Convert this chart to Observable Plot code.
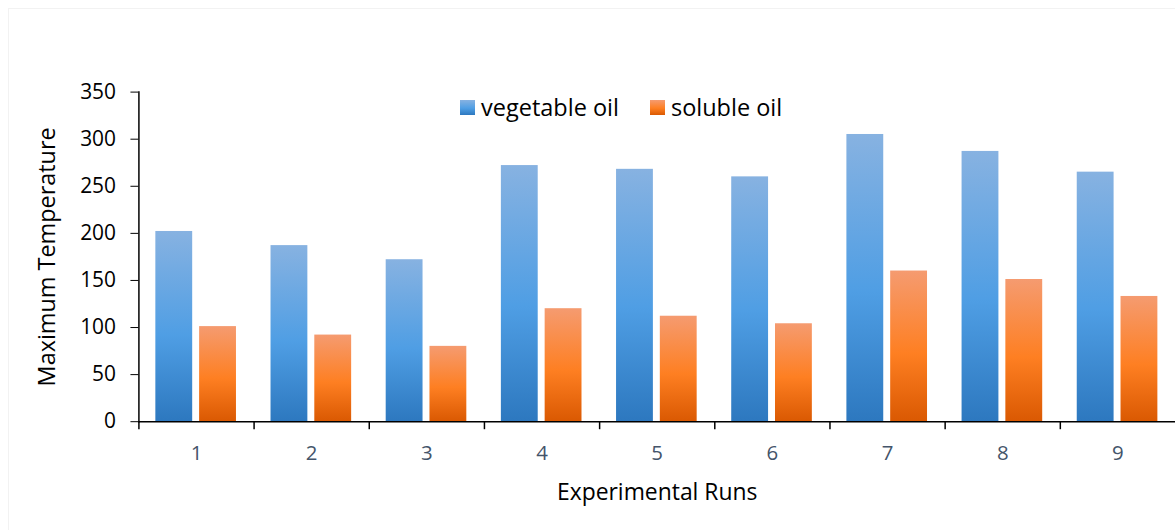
<!DOCTYPE html>
<html>
<head>
<meta charset="utf-8">
<script src="https://cdn.jsdelivr.net/npm/d3@7"></script>
<script src="https://cdn.jsdelivr.net/npm/@observablehq/plot@0.6"></script>
<style>
  html, body { margin: 0; padding: 0; background: #fff; overflow: hidden; }
  #wrap { position: relative; width: 1175px; height: 530px; overflow: hidden; font-family: "Open Sans", Lato, sans-serif; }
  #border { position: absolute; left: 8px; top: 8px; width: 1200px; height: 600px; border: 1px solid #f2f2f2; box-sizing: border-box; pointer-events: none; }
  #legend { position: absolute; left: 460px; top: 91px; display: flex; align-items: center; font-size: 23.5px; color: #000; }
  #legend .item { display: flex; align-items: center; }
  #legend .sw { width: 15px; height: 15px; margin-right: 6px; }
  #legend .sep { width: 31px; }
  #chart { position: absolute; left: 0; top: 0; }
</style>
</head>
<body>
<div id="wrap">
  <div id="border"></div>
  <div id="chart"></div>
  <div id="legend"></div>
</div>
<script>
// ---- data ----
const runs = [1, 2, 3, 4, 5, 6, 7, 8, 9];
const seriesNames = ["vegetable oil", "soluble oil"];
const vegetableOil = [202, 187, 172, 272, 268, 260, 305, 287, 265];
const solubleOil = [101, 92, 80, 120, 112, 104, 160, 151, 133];
const yTicks = [0, 50, 100, 150, 200, 250, 300, 350];
const xLabel = "Experimental Runs";
const yLabel = "Maximum Temperature";

// gradient stops per series [top, middle, bottom]
const gradients = {
  "vegetable oil": ["#87b2e1", "#4f9ee4", "#2d78bf"],
  "soluble oil": ["#f59b70", "#fe7f22", "#da5902"]
};
const gradId = {"vegetable oil": "grad-veg", "soluble oil": "grad-sol"};

const W = 1180, H = 530;
const mL = 139, mR = 0, mT = 92, mB = 107;
const step = (W - mL - mR) / runs.length;

const defs = () => {
  const svg = d3.create("svg:defs");
  for (const name of seriesNames) {
    const g = svg.append("linearGradient").attr("id", gradId[name])
      .attr("x1", 0).attr("y1", 0).attr("x2", 0).attr("y2", 1);
    const [a, b, c] = gradients[name];
    g.append("stop").attr("offset", "0%").attr("stop-color", a);
    g.append("stop").attr("offset", "55%").attr("stop-color", b);
    g.append("stop").attr("offset", "100%").attr("stop-color", c);
  }
  return svg.node();
};

const chart = Plot.plot({
  width: W,
  height: H,
  marginLeft: mL,
  marginRight: mR,
  marginTop: mT,
  marginBottom: mB,
  style: {fontFamily: "'Open Sans', Lato, sans-serif", background: "transparent", overflow: "visible"},
  x: {domain: runs, padding: 0, round: false},
  y: {domain: [0, 350]},
  marks: [
    defs,
    Plot.barY(runs, {x: d => d, y: (d, i) => vegetableOil[i], fill: `url(#${gradId["vegetable oil"]})`, insetLeft: 17, insetRight: step - 54}),
    Plot.barY(runs, {x: d => d, y: (d, i) => solubleOil[i], fill: `url(#${gradId["soluble oil"]})`, insetLeft: step - 54.7, insetRight: 17.7}),
    Plot.axisY({ticks: yTicks, tickSize: 8, tickPadding: 15, fontSize: 21, fill: "#000", stroke: "#000",
      label: yLabel, labelAnchor: "center", labelArrow: "none", labelOffset: 101}),
    Plot.axisX({ticks: runs, tickSize: 0, tickPadding: 24, fontSize: 20.5, fill: "#44546a",
      label: xLabel, labelAnchor: "center", labelArrow: "none", labelOffset: 79}),
    Plot.ruleX(runs, {x: d => d, y1: 0, y2: -8.5, dx: -step / 2, stroke: "#000", strokeWidth: 1.5}),
    Plot.ruleY([0], {stroke: "#000", strokeWidth: 1.5}),
    Plot.frame({anchor: "left", stroke: "#000", strokeWidth: 1.5})
  ]
});
// style axis labels
d3.select(chart).selectAll("g[aria-label='y-axis label'] text")
  .attr("font-size", 23.5).attr("fill", "#000");
d3.select(chart).selectAll("g[aria-label='x-axis label'] text")
  .attr("font-size", 23).attr("fill", "#000");
document.getElementById("chart").appendChild(chart);

// legend
const legend = d3.select("#legend");
seriesNames.forEach((name, i) => {
  if (i > 0) legend.append("div").attr("class", "sep");
  const it = legend.append("div").attr("class", "item");
  const [a, b, c] = gradients[name];
  it.append("div").attr("class", "sw").style("background", `linear-gradient(${a}, ${b} 55%, ${c})`);
  it.append("span").text(name);
});
</script>
</body>
</html>
